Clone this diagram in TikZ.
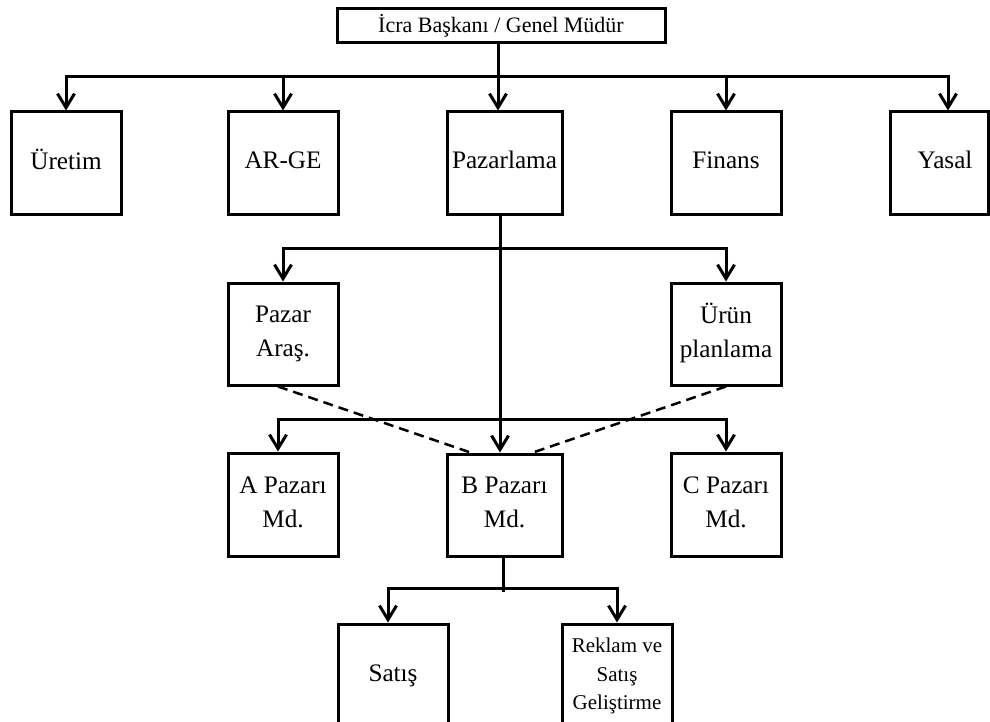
\documentclass[tikz,border=0pt]{standalone}
\usepackage{fontspec}
\setmainfont{Liberation Serif}
\usetikzlibrary{arrows.meta}
\newcommand\tsA{\rule[-3.5pt]{0pt}{12.5pt}}
\newcommand\tsB{\rule[-3pt]{0pt}{11pt}}
\begin{document}
\begin{tikzpicture}[x=0.5pt,y=-0.5pt,
 box/.style={draw, line width=1.5pt, inner sep=0pt, align=center, font=\fontsize{12.6}{17}\selectfont, minimum width=55pt, minimum height=51pt},
 link/.style={line width=1.5pt},
 arr/.style={link, -{Straight Barb[length=7pt,width=8.5pt]}},
 dsh/.style={line width=1.25pt, dash pattern=on 5pt off 3pt}]
\useasboundingbox (0,0) rectangle (990,722);
\clip (0,0) rectangle (990,722);
\fill[white] (0,0) rectangle (990,722);
% nodes
\node[box, minimum width=164pt, minimum height=17pt, font=\fontsize{11}{13}\selectfont] (ceo) at (501,26) {\tsB İcra Başkanı / Genel Müdür};
\node[box] (ure) at (66,163) {\tsA Üretim};
\node[box] (arge) at (283,163) {\tsA AR-GE};
\node[box, minimum width=57.5pt] (paz) at (504.5,163) {\tsA Pazarlama};
\node[box] (fin) at (726,163) {\tsA Finans};
\node[box, minimum width=49pt] (yas) at (939,163) {\tsA\hspace{6pt}Yasal};
\node[box] (ara) at (283,334) {\tsA Pazar\\\tsA Araş.};
\node[box] (urn) at (726,334) {\tsA Ürün\\\tsA planlama};
\node[box, minimum height=51.5pt] (apz) at (283,504.5) {\tsA A Pazarı\\\tsA Md.};
\node[box, minimum width=57.5pt] (bpz) at (504.5,505) {\tsA B Pazarı\\\tsA Md.};
\node[box, minimum height=51.5pt] (cpz) at (726,504.5) {\tsA C Pazarı\\\tsA Md.};
\node[box, minimum height=52pt] (sat) at (393,676) {\tsA Satış};
\node[box, minimum height=52pt, font=\fontsize{10.5}{14.25}\selectfont] (rek) at (617,676) {\tsB Reklam ve\\\tsB Satış\\\tsB Geliştirme};
% junctions
\coordinate (j1) at (498,77);
\coordinate (h1R) at (948,77);
\coordinate (j2) at (500,248);
\coordinate (j3) at (500,419);
\coordinate (a3) at (278,419);
\coordinate (j4) at (503,588);
% level 1
\draw[link] (ceo.south -| j1) -- (j1);
\draw[arr] (j1) -- (paz.north -| j1);
\draw[arr] (j1) -| (ure.north);
\draw[arr] (j1) -| (arge.north);
\draw[arr] (j1) -| (fin.north);
\draw[arr] (j1) -| (yas.north -| h1R);
% level 2
\draw[arr] (paz.south -| j2) -- (bpz.north -| j2);
\draw[arr] (j2) -| (ara.north);
\draw[arr] (j2) -| (urn.north);
% level 3
\draw[arr] (j3) -| (apz.north -| a3);
\draw[arr] (j3) -| (cpz.north);
% dashed
\draw[dsh] ([xshift=-2.5pt]ara.south) -- ([xshift=-17pt]bpz.north);
\draw[dsh] (urn.south) -- ([xshift=14.25pt]bpz.north);
% level 4
\draw[link] (bpz.south -| j4) -- ([yshift=-2pt]j4);
\draw[arr] (j4) -| ([xshift=-2.5pt]sat.north);
\draw[arr] (j4) -| (rek.north);
\end{tikzpicture}
\end{document}
